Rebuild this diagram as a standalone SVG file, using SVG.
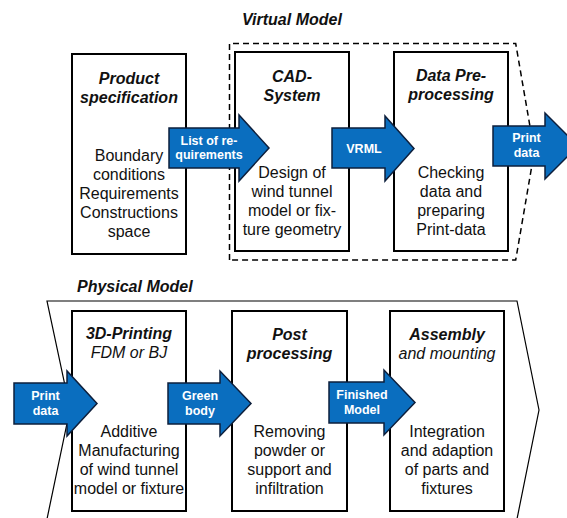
<svg xmlns="http://www.w3.org/2000/svg" width="567" height="518" viewBox="0 0 567 518">
  <style>
    .box { fill: #ffffff; stroke: #000000; stroke-width: 2; }
    .frame-v { fill: none; stroke: #000000; stroke-width: 1.5; stroke-dasharray: 6 4; }
    .frame-p { fill: none; stroke: #000000; stroke-width: 1.2; }
    .arrow { fill: #0A6EBF; stroke: #0D1F3C; stroke-width: 1.5; stroke-linejoin: miter; }
    text { font-family: "Liberation Sans", Arial, Helvetica, sans-serif; fill: #111111; text-anchor: middle; }
    .sec { font-size: 16px; font-weight: bold; font-style: italic; text-anchor: start; }
    .title { font-size: 16px; font-weight: bold; font-style: italic; }
    .sub { font-size: 16px; font-style: italic; }
    .body { font-size: 16px; }
    .lbl { font-size: 12.5px; font-weight: bold; fill: #ffffff; }
  </style>

  <!-- section frames -->
  <g id="virtual-model">
    <path class="frame-v" d="M229.5,260 L229.5,43.5 L515.7,43.5 L534.3,151.5 L515.7,260 Z"/>
    <text class="sec" x="242" y="25">Virtual Model</text>
  </g>
  <g id="physical-model">
    <path class="frame-p" d="M47,519 L70,409 L47,301 L517,301 L539,410 L517,519"/>
    <text class="sec" x="77" y="292">Physical Model</text>
  </g>

  <!-- process steps -->
  <g id="product-specification">
    <rect class="box" x="72" y="54" width="114" height="200"/>
    <text class="title" x="129" y="84">Product</text>
    <text class="title" x="129" y="103">specification</text>
    <text class="body" x="129" y="161">Boundary</text>
    <text class="body" x="129" y="180">conditions</text>
    <text class="body" x="129" y="199">Requirements</text>
    <text class="body" x="129" y="218">Constructions</text>
    <text class="body" x="129" y="237">space</text>
  </g>
  <g id="cad-system">
    <rect class="box" x="235" y="52" width="114" height="199"/>
    <text class="title" x="292" y="82">CAD-</text>
    <text class="title" x="292" y="101">System</text>
    <text class="body" x="292" y="178">Design of</text>
    <text class="body" x="292" y="197">wind tunnel</text>
    <text class="body" x="292" y="216">model or fix-</text>
    <text class="body" x="292" y="235">ture geometry</text>
  </g>
  <g id="data-preprocessing">
    <rect class="box" x="394" y="52" width="114" height="199"/>
    <text class="title" x="451" y="81">Data Pre-</text>
    <text class="title" x="451" y="100">processing</text>
    <text class="body" x="451" y="178">Checking</text>
    <text class="body" x="451" y="197">data and</text>
    <text class="body" x="451" y="216">preparing</text>
    <text class="body" x="451" y="235">Print-data</text>
  </g>
  <g id="printing-3d">
    <rect class="box" x="72" y="311" width="114" height="200"/>
    <text class="title" x="129" y="339">3D-Printing</text>
    <text class="sub" x="129" y="358">FDM or BJ</text>
    <text class="body" x="129" y="437">Additive</text>
    <text class="body" x="129" y="456">Manufacturing</text>
    <text class="body" x="129" y="475">of wind tunnel</text>
    <text class="body" x="129" y="494">model or fixture</text>
  </g>
  <g id="post-processing">
    <rect class="box" x="232" y="311" width="115" height="200"/>
    <text class="title" x="289.5" y="340">Post</text>
    <text class="title" x="289.5" y="359">processing</text>
    <text class="body" x="289.5" y="437">Removing</text>
    <text class="body" x="289.5" y="456">powder or</text>
    <text class="body" x="289.5" y="475">support and</text>
    <text class="body" x="289.5" y="494">infiltration</text>
  </g>
  <g id="assembly">
    <rect class="box" x="390" y="311" width="114" height="200"/>
    <text class="title" x="447" y="340">Assembly</text>
    <text class="sub" x="447" y="359">and mounting</text>
    <text class="body" x="447" y="437">Integration</text>
    <text class="body" x="447" y="456">and adaption</text>
    <text class="body" x="447" y="475">of parts and</text>
    <text class="body" x="447" y="494">fixtures</text>
  </g>

  <!-- block arrows between steps -->
  <g id="connectors">
    <g id="arrow-requirements">
      <polygon class="arrow" points="169,128 239,128 239,115 269,148 239,181 239,168 169,168"/>
      <text class="lbl" x="209" y="144.5">List of re-</text>
      <text class="lbl" x="209" y="159">quirements</text>
    </g>
    <g id="arrow-vrml">
      <polygon class="arrow" points="332,128 385,128 385,116 414,148.5 385,181 385,168 332,168"/>
      <text class="lbl" x="364" y="153">VRML</text>
    </g>
    <g id="arrow-print-data-out">
      <polygon class="arrow" points="493,126 545,126 545,113 578,146 545,179 545,166 493,166"/>
      <text class="lbl" x="526.5" y="142">Print</text>
      <text class="lbl" x="526.5" y="157">data</text>
    </g>
    <g id="arrow-print-data-in">
      <polygon class="arrow" points="14,383 67,383 67,371 97,403.5 67,436 67,424 14,424"/>
      <text class="lbl" x="45.5" y="400">Print</text>
      <text class="lbl" x="45.5" y="415">data</text>
    </g>
    <g id="arrow-green-body">
      <polygon class="arrow" points="168,383 220,383 220,371 251,403.5 220,436 220,424 168,424"/>
      <text class="lbl" x="200" y="400">Green</text>
      <text class="lbl" x="200" y="415">body</text>
    </g>
    <g id="arrow-finished-model">
      <polygon class="arrow" points="329,382 384,382 384,370 415,402.5 384,435 384,423 329,423"/>
      <text class="lbl" x="362" y="399">Finished</text>
      <text class="lbl" x="362" y="414">Model</text>
    </g>
  </g>
</svg>
